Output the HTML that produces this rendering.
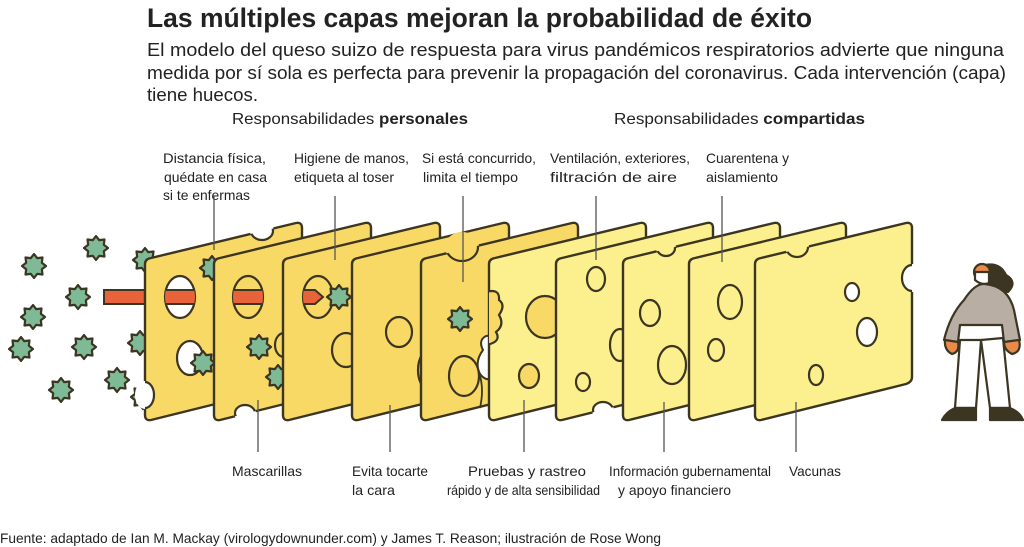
<!DOCTYPE html>
<html><head><meta charset="utf-8"><style>
html,body{margin:0;padding:0;background:#fff}
svg{display:block}
text{font-family:"Liberation Sans Narrow","Liberation Sans",sans-serif;fill:#222}
</style></head><body>
<svg width="1024" height="547" viewBox="0 0 1024 547" xmlns="http://www.w3.org/2000/svg">
<defs>
<path id="st" d="M12,0 L7.85,3.25 L8.49,8.49 L3.25,7.85 L0,12 L-3.25,7.85 L-8.49,8.49 L-7.85,3.25 L-12,0 L-7.85,-3.25 L-8.49,-8.49 L-3.25,-7.85 L0,-12 L3.25,-7.85 L8.49,-8.49 L7.85,-3.25 Z" fill="#7dba95" stroke="#3b3522" stroke-width="2.2" stroke-linejoin="round"/>
<path id="sl" d="M6,258 L151,223 Q157,222 157,228 L157,377 Q157,382 151,384 L6,420 Q0,421 0,415 L0,264 Q0,259 6,258 Z" stroke="#3b3522" stroke-width="2.4" stroke-linejoin="round"/>
<clipPath id="c1"><use href="#sl" x="145"/></clipPath>
<clipPath id="c2"><use href="#sl" x="214"/></clipPath>
<clipPath id="c5"><use href="#sl" x="421"/></clipPath>
<clipPath id="c6"><use href="#sl" x="489"/></clipPath>
<clipPath id="c7"><use href="#sl" x="556"/></clipPath>
<clipPath id="c8"><use href="#sl" x="623"/></clipPath>
<clipPath id="c10"><use href="#sl" x="755"/></clipPath>
<clipPath id="h1"><ellipse cx="180" cy="297" rx="15" ry="21"/></clipPath>
<clipPath id="h2"><ellipse cx="248" cy="297" rx="15" ry="21"/></clipPath>
<clipPath id="h3"><ellipse cx="318" cy="297" rx="15" ry="21"/></clipPath>
</defs>

<text x="147" y="27" font-size="27" font-weight="bold" textLength="665" lengthAdjust="spacingAndGlyphs" fill="#111">Las múltiples capas mejoran la probabilidad de éxito</text>
<text x="147" y="56" font-size="18" textLength="857" lengthAdjust="spacingAndGlyphs">El modelo del queso suizo de respuesta para virus pandémicos respiratorios advierte que ninguna</text>
<text x="147" y="79" font-size="18" textLength="859" lengthAdjust="spacingAndGlyphs">medida por sí sola es perfecta para prevenir la propagación del coronavirus. Cada intervención (capa)</text>
<text x="147" y="101" font-size="18" textLength="111" lengthAdjust="spacingAndGlyphs">tiene huecos.</text>
<text x="232" y="124" font-size="16" textLength="236" lengthAdjust="spacingAndGlyphs">Responsabilidades <tspan font-weight="bold">personales</tspan></text>
<text x="614" y="124" font-size="16" textLength="251" lengthAdjust="spacingAndGlyphs">Responsabilidades <tspan font-weight="bold">compartidas</tspan></text>

<g font-size="14">
<text x="163" y="163" textLength="103" lengthAdjust="spacingAndGlyphs">Distancia física,</text>
<text x="164" y="182" textLength="103" lengthAdjust="spacingAndGlyphs">quédate en casa</text>
<text x="163" y="200" textLength="87" lengthAdjust="spacingAndGlyphs">si te enfermas</text>
<text x="294" y="163" textLength="115" lengthAdjust="spacingAndGlyphs">Higiene de manos,</text>
<text x="294" y="182" textLength="100" lengthAdjust="spacingAndGlyphs">etiqueta al toser</text>
<text x="422" y="163" textLength="114" lengthAdjust="spacingAndGlyphs">Si está concurrido,</text>
<text x="423" y="182" textLength="95" lengthAdjust="spacingAndGlyphs">limita el tiempo</text>
<text x="550" y="163" textLength="140" lengthAdjust="spacingAndGlyphs">Ventilación, exteriores,</text>
<text x="550" y="182" textLength="127" lengthAdjust="spacingAndGlyphs">filtración de aire</text>
<text x="706" y="163" textLength="83" lengthAdjust="spacingAndGlyphs">Cuarentena y</text>
<text x="706" y="182" textLength="72" lengthAdjust="spacingAndGlyphs">aislamiento</text>

<text x="232" y="476" textLength="70" lengthAdjust="spacingAndGlyphs">Mascarillas</text>
<text x="352" y="476" textLength="76" lengthAdjust="spacingAndGlyphs">Evita tocarte</text>
<text x="352" y="495" textLength="43" lengthAdjust="spacingAndGlyphs">la cara</text>
<text x="468" y="476" textLength="118" lengthAdjust="spacingAndGlyphs">Pruebas y rastreo</text>
<text x="447" y="495" textLength="153" lengthAdjust="spacingAndGlyphs">rápido y de alta sensibilidad</text>
<text x="609" y="476" textLength="162" lengthAdjust="spacingAndGlyphs">Información gubernamental</text>
<text x="618" y="495" textLength="113" lengthAdjust="spacingAndGlyphs">y apoyo financiero</text>
<text x="789" y="476" textLength="52" lengthAdjust="spacingAndGlyphs">Vacunas</text>
<text x="0" y="543" textLength="661" lengthAdjust="spacingAndGlyphs">Fuente: adaptado de Ian M. Mackay (virologydownunder.com) y James T. Reason; ilustración de Rose Wong</text>
</g>

<!-- outer viruses -->
<use href="#st" x="34" y="266"/><use href="#st" x="96" y="248"/><use href="#st" x="78" y="297"/>
<use href="#st" x="33" y="317"/><use href="#st" x="21" y="349"/><use href="#st" x="84" y="347"/>
<use href="#st" x="61" y="390"/><use href="#st" x="117" y="380"/><use href="#st" x="145" y="260"/>
<use href="#st" x="140" y="343"/><use href="#st" x="143" y="397"/>
<rect x="104" y="290" width="45" height="14" fill="#e8623a" stroke="#3b3522" stroke-width="2"/>

<g stroke="#3b3522" stroke-width="2.2">
<!-- slice 1 -->
<use href="#sl" x="145" fill="#f9d966"/>
<ellipse cx="262" cy="231" rx="12" ry="10" fill="#fff" stroke="none"/>
<ellipse cx="262" cy="231" rx="11" ry="9" fill="#fff" clip-path="url(#c1)"/>
<ellipse cx="145" cy="395" rx="10" ry="14" fill="#fff" stroke="none"/>
<ellipse cx="145" cy="395" rx="9" ry="13" fill="#fff" clip-path="url(#c1)"/>
<ellipse cx="180" cy="297" rx="15" ry="21" fill="#fff"/>
<rect x="160" y="290" width="40" height="14" fill="#e8623a" stroke-width="2" clip-path="url(#h1)"/>
<ellipse cx="190" cy="358" rx="13" ry="17" fill="#fff"/>
<use href="#st" x="212" y="268"/><use href="#st" x="203" y="363"/>
<!-- slice 2 -->
<use href="#sl" x="214" fill="#f9d966"/>
<ellipse cx="284" cy="345" rx="9" ry="12" fill="#f9d966" clip-path="url(#c2)"/>
<ellipse cx="245" cy="413" rx="11" ry="9" fill="#fff" stroke="none"/>
<ellipse cx="245" cy="413" rx="10" ry="8" fill="#fff" clip-path="url(#c2)"/>
<ellipse cx="248" cy="297" rx="15" ry="21" fill="#f9d966"/>
<rect x="228" y="290" width="40" height="14" fill="#e8623a" stroke-width="2" clip-path="url(#h2)"/>
<use href="#st" x="259" y="347"/><use href="#st" x="278" y="377"/>
<!-- slice 3 -->
<use href="#sl" x="283" fill="#f9d966"/>
<ellipse cx="318" cy="297" rx="15" ry="21" fill="#f9d966"/>
<path d="M300,290 L315,290 L323,297 L315,304 L300,304 Z" fill="#e8623a" stroke-width="2" clip-path="url(#h3)"/>
<ellipse cx="346" cy="350" rx="14" ry="17" fill="#f9d966"/>
<use href="#st" x="339" y="297"/>
<!-- slice 4 -->
<use href="#sl" x="352" fill="#f9d966"/>
<ellipse cx="399" cy="332" rx="13" ry="15" fill="#f9d966"/>
<ellipse cx="432" cy="370" rx="14" ry="22" fill="#f9d966"/>
<!-- slice 5 -->
<use href="#sl" x="421" fill="#f9d966"/>
<ellipse cx="462" cy="247" rx="17" ry="15" fill="#f9d966" stroke="none"/>
<ellipse cx="462" cy="247" rx="16" ry="14" fill="#f9d966" clip-path="url(#c5)"/>
<ellipse cx="464" cy="376" rx="15" ry="20" fill="#f9d966"/>
<path d="M483,350 Q478,340 486,336 Q494,334 494,345 L494,378 Q486,382 480,374 Q474,362 483,350 Z" fill="#fff" stroke-width="2"/>
<path d="M480,376 Q484,390 480,408" fill="none" stroke-width="1.8"/>
<use href="#st" x="460" y="319"/>
<!-- slice 6 -->
<use href="#sl" x="489" fill="#fcef8e"/>
<path d="M486,292 Q500,288 499,300 Q506,305 499,315 Q505,325 496,332 Q502,342 486,345 Z" fill="#f9d966" clip-path="url(#c6)"/>
<ellipse cx="545" cy="317" rx="19" ry="21" fill="#f9d966"/>
<ellipse cx="529" cy="376" rx="10" ry="12" fill="#f9d966"/>
<use href="#st" x="617" y="300"/>
<!-- slice 7 -->
<use href="#sl" x="556" fill="#fcef8e"/>
<ellipse cx="596" cy="279" rx="9" ry="12" fill="#fcef8e"/>
<ellipse cx="583" cy="382" rx="7" ry="9" fill="#fcef8e"/>
<ellipse cx="620" cy="345" rx="10" ry="16" fill="#fcef8e"/>
<ellipse cx="603" cy="410" rx="11" ry="9" fill="#fff" stroke="none"/>
<ellipse cx="603" cy="410" rx="10" ry="8" fill="#fff" clip-path="url(#c7)"/>
<!-- slice 8 -->
<use href="#sl" x="623" fill="#fcef8e"/>
<ellipse cx="650" cy="313" rx="10" ry="13" fill="#fcef8e"/>
<ellipse cx="672" cy="365" rx="14" ry="19" fill="#fcef8e"/>
<ellipse cx="666" cy="248" rx="10" ry="9" fill="#fcef8e" stroke="none"/>
<ellipse cx="666" cy="248" rx="9" ry="8" fill="#fcef8e" clip-path="url(#c8)"/>
<!-- slice 9 -->
<use href="#sl" x="689" fill="#fcef8e"/>
<ellipse cx="730" cy="302" rx="12" ry="17" fill="#fcef8e"/>
<ellipse cx="716" cy="350" rx="8" ry="11" fill="#fcef8e"/>
<!-- slice 10 -->
<use href="#sl" x="755" fill="#fcef8e"/>
<ellipse cx="797" cy="247" rx="12" ry="11" fill="#fcef8e" stroke="none"/>
<ellipse cx="797" cy="247" rx="11" ry="10" fill="#fcef8e" clip-path="url(#c10)"/>
<ellipse cx="912" cy="278" rx="11" ry="14" fill="#fff" stroke="none"/>
<ellipse cx="912" cy="278" rx="10" ry="13" fill="#fff" clip-path="url(#c10)"/>
<ellipse cx="852" cy="292" rx="7" ry="9" fill="#fff"/>
<ellipse cx="867" cy="332" rx="10" ry="14" fill="#fff"/>
<ellipse cx="816" cy="375" rx="7" ry="10" fill="#fcef8e"/>
</g>

<!-- leader lines -->
<g stroke="#555" stroke-width="1.3">
<line x1="214" y1="196" x2="214" y2="250"/>
<line x1="335" y1="196" x2="335" y2="260"/>
<line x1="463" y1="196" x2="463" y2="282"/>
<line x1="596" y1="196" x2="596" y2="260"/>
<line x1="722" y1="196" x2="722" y2="262"/>
<line x1="258" y1="400" x2="258" y2="452"/>
<line x1="390" y1="405" x2="390" y2="452"/>
<line x1="524" y1="400" x2="524" y2="452"/>
<line x1="664" y1="402" x2="664" y2="452"/>
<line x1="796" y1="402" x2="796" y2="452"/>
</g>

<!-- person -->
<g stroke="#3b3522" stroke-width="2.2" stroke-linejoin="round">
<path d="M985,265 Q1000,262 1006,275 Q1018,282 1008,292 Q996,290 988,282 Z" fill="#3b3522"/>
<circle cx="982" cy="272" r="8" fill="#e9894a"/>
<path d="M975,272 L989,272 L989,283 Q982,286 975,280 Z" fill="#fff"/>
<path d="M960,340 L955,408 L976,408 L981,340 Z" fill="#fff"/>
<path d="M981,340 L990,408 L1010,408 L1003,338 Z" fill="#fff"/>
<path d="M964,300 Q975,283 985,284 Q1008,286 1014,310 L1020,340 L1004,342 L1002,325 L960,325 L958,342 L944,340 Q950,315 964,300 Z" fill="#b8aea4"/>
<path d="M945,340 L958,342 Q960,352 952,354 Q944,350 945,340 Z" fill="#e9894a"/>
<path d="M1004,342 L1019,340 Q1022,352 1012,354 Q1004,350 1004,342 Z" fill="#e9894a"/>
<path d="M955,408 L976,408 L976,420 L942,420 Q946,412 955,408 Z" fill="#3b3522"/>
<path d="M990,408 L1010,408 Q1020,412 1023,420 L990,420 Z" fill="#3b3522"/>
</g>
</svg>
</body></html>
